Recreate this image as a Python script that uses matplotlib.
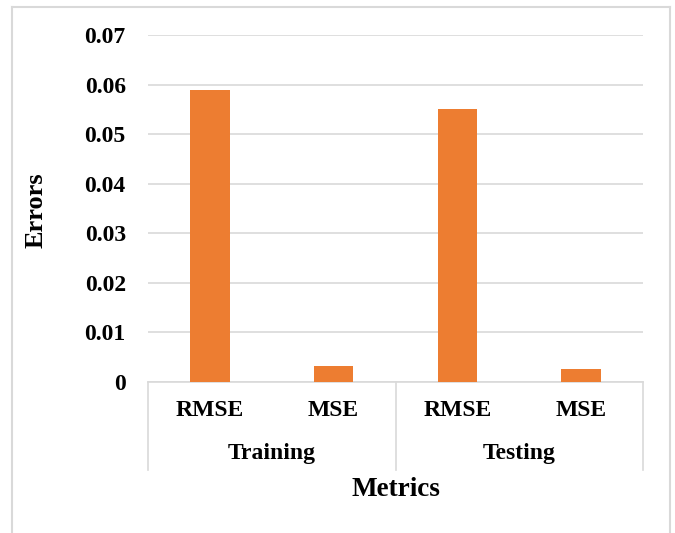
import matplotlib.pyplot as plt
from matplotlib.lines import Line2D

metrics = ["RMSE", "MSE", "RMSE", "MSE"]
groups = ["Training", "Testing"]
errors = [0.059, 0.0033, 0.055, 0.0026]
y_ticks = [0, 0.01, 0.02, 0.03, 0.04, 0.05, 0.06, 0.07]
y_tick_labels = ["0", "0.01", "0.02", "0.03", "0.04", "0.05", "0.06", "0.07"]

W, H = 675, 533
bar_color = "#ED7D31"
line_color = "#D9D9D9"

plt.rcParams["font.family"] = ["Liberation Serif", "DejaVu Serif"]
plt.rcParams["font.weight"] = "bold"

fig = plt.figure(figsize=(W / 100, H / 100), dpi=100)

# axes box in pixel coords
x0, x1 = 148, 643
y_top, y_bot = 35, 382
ax = fig.add_axes([x0 / W, 1 - y_bot / H, (x1 - x0) / W, (y_bot - y_top) / H])

x = list(range(len(metrics)))
ax.bar(x, errors, width=0.32, color=bar_color, zorder=3)
ax.set_xlim(-0.5, len(metrics) - 0.5)
ax.set_ylim(0, 0.07)
ax.set_yticks(y_ticks)
ax.set_yticklabels(y_tick_labels, fontsize=17, fontweight="bold")
ax.yaxis.grid(True, color=line_color, linewidth=1.2, zorder=0)
ax.tick_params(axis="y", length=0, pad=16)
ax.tick_params(axis="x", length=0)
ax.set_xticks([])
for s in ["top", "right", "left"]:
    ax.spines[s].set_visible(False)
ax.spines["bottom"].set_color(line_color)
ax.spines["bottom"].set_linewidth(1.2)

# two-level category axis
tr = ax.get_xaxis_transform()
sep_bottom = -(470 - y_bot) / (y_bot - y_top)
for xs in [-0.5, 1.5, 3.5]:
    ax.add_line(Line2D([xs, xs], [0, sep_bottom], transform=tr, color=line_color,
                       linewidth=1.2, clip_on=False))
lab_y = -(411 - y_bot) / (y_bot - y_top)
for xi, m in zip(x, metrics):
    ax.text(xi, lab_y, m, transform=tr, ha="center", va="center",
            fontsize=17, fontweight="bold")
grp_y = -(453 - y_bot) / (y_bot - y_top)
for gi, g in enumerate(groups):
    ax.text(gi * 2 + 0.5, grp_y, g, transform=tr, ha="center", va="center",
            fontsize=17, fontweight="bold")

fig.text(396 / W, 1 - 489 / H, "Metrics", ha="center", va="center",
         fontsize=19.5, fontweight="bold")
fig.text(36 / W, 1 - 210 / H, "Errors", ha="center", va="center",
         rotation=90, fontsize=19, fontweight="bold")

# chart frame (open at the bottom)
fl, fr, ft = 12 / W, 670 / W, 1 - 7 / H
for xs, ys in [([fl, fl], [0, ft]), ([fl, fr], [ft, ft]), ([fr, fr], [ft, 0])]:
    fig.add_artist(Line2D(xs, ys, transform=fig.transFigure, color=line_color,
                          linewidth=1.5))

fig.savefig("out.png", dpi=100)
